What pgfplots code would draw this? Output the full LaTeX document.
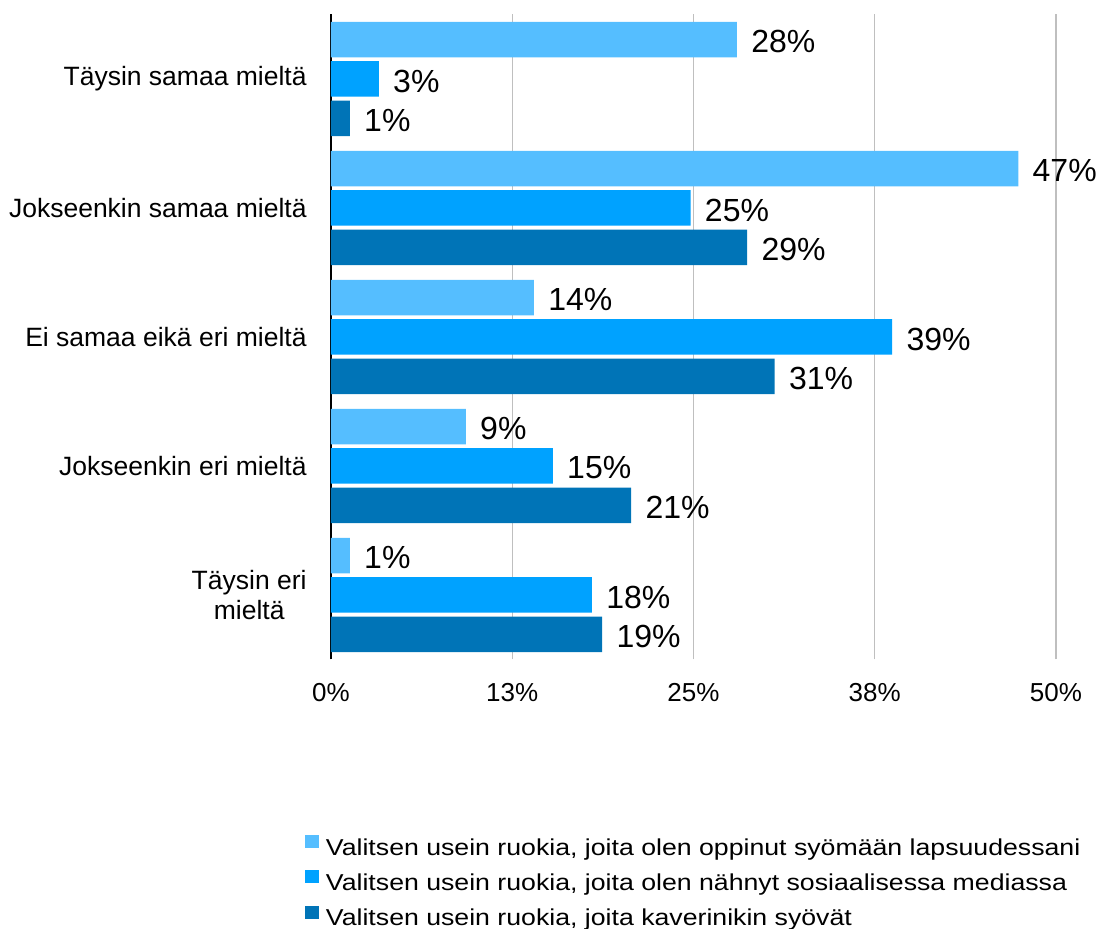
\documentclass[border=0pt]{standalone}
\usepackage{fontspec}
\setmainfont{Liberation Sans}
\newfontfamily\legfont[FakeStretch=1.16]{Liberation Sans}
\usepackage{pgfplots}
\usepackage{pgfplotstable}
\pgfplotsset{compat=1.18}
\definecolor{cA}{HTML}{55BEFF}
\definecolor{cB}{HTML}{00A2FF}
\definecolor{cC}{HTML}{0074B7}
\definecolor{gridc}{HTML}{BFBFBF}

\pgfplotstableread{
y a b c
4 28.0 3.3 1.3
3 47.4 24.8 28.7
2 14.0 38.7 30.6
1 9.3 15.3 20.7
0 1.3 18.0 18.7
}\datatable

\begin{document}
\begin{tikzpicture}
\useasboundingbox (-165.5pt,-134.75pt) rectangle (384.5pt,329.75pt);
\begin{axis}[
  at={(0pt,0pt)}, anchor=south west,
  scale only axis, width=362.5pt, height=322.5pt,
  xbar, bar width=0.2752,
  xmin=0, xmax=50, ymin=-0.5, ymax=4.5,
  xtick={0,12.5,25,37.5,50},
  xticklabels={0\%,13\%,25\%,38\%,50\%},
  ytick={0,1,2,3,4},
  yticklabels={{Täysin eri\\mieltä},{Jokseenkin eri mieltä},{Ei samaa eikä eri mieltä},{Jokseenkin samaa mieltä},{Täysin samaa mieltä}},
  xmajorgrids, grid style={gridc, line width=0.6pt},
  axis lines*=left,
  axis line style={-},
  x axis line style={draw=none},
  y axis line style={black, line width=1pt},
  major tick length=0pt,
  tick label style={font=\fontsize{13}{14.65}\selectfont},
  yticklabel style={align=center, inner sep=0pt, xshift=-12pt, font=\fontsize{13.25}{14.65}\selectfont},
  xticklabel style={inner sep=0pt, yshift=-11.8pt},
  /pgf/number format/assume math mode=true,
  nodes near coords={\pgfmathprintnumber[fixed,precision=0]{\pgfplotspointmeta}\%},
  nodes near coords style={font=\fontsize{16}{18}\selectfont, inner sep=0pt, xshift=7pt, yshift=-1pt, text=black},
  legend style={at={(axis description cs:-0.03586,-0.2726)}, anchor=north west,
    draw=none, fill=none, inner sep=0pt, outer sep=0pt, row sep=4.9pt, column sep=3.5pt,
    font=\legfont\fontsize{11.5}{13}\selectfont,
    nodes={inner sep=0pt, text height=8.5pt, text depth=2.5pt}},
  legend cell align=left,
  legend image code/.code={\fill[#1] (0pt,0.65pt) rectangle (7pt,7.15pt);},
]
\addplot[fill=cA, draw=none, bar shift=0.3047] table[x=a,y=y]{\datatable};
\addlegendentry{Valitsen usein ruokia, joita olen oppinut syömään lapsuudessani}
\addplot[fill=cB, draw=none, bar shift=0] table[x=b,y=y]{\datatable};
\addlegendentry{Valitsen usein ruokia, joita olen nähnyt sosiaalisessa mediassa}
\addplot[fill=cC, draw=none, bar shift=-0.3047] table[x=c,y=y]{\datatable};
\addlegendentry{Valitsen usein ruokia, joita kaverinikin syövät}
\end{axis}
\end{tikzpicture}
\end{document}
